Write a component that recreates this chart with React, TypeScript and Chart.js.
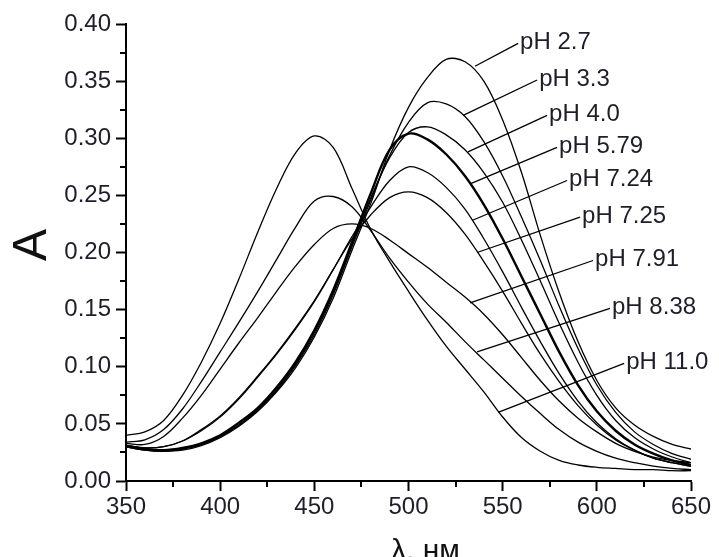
import React, { useEffect, useRef } from "react";
import { Chart, registerables } from "chart.js";

Chart.register(...registerables);

// Wavelength grid (nm)
const wavelengths = [
  350, 360, 370, 380, 390, 400, 410, 420, 430, 440, 450, 460, 470, 480, 490, 500,
  510, 520, 530, 540, 550, 560, 570, 580, 590, 600, 610, 620, 630, 640, 650,
];

// Absorbance values, one array per pH
const pH2_7 = [
  0.030, 0.027, 0.026, 0.027, 0.031, 0.038, 0.048, 0.061, 0.078, 0.099, 0.126, 0.160, 0.202, 0.243, 0.290, 0.327,
  0.353, 0.369, 0.367, 0.350, 0.316, 0.270, 0.215, 0.165, 0.122, 0.088, 0.064, 0.049, 0.039, 0.032, 0.028,
];
const pH3_3 = [
  0.030, 0.027, 0.026, 0.028, 0.032, 0.039, 0.049, 0.062, 0.079, 0.101, 0.128, 0.163, 0.205, 0.246, 0.285, 0.314,
  0.331, 0.330, 0.319, 0.297, 0.267, 0.231, 0.193, 0.153, 0.116, 0.084, 0.060, 0.043, 0.032, 0.024, 0.019,
];
const pH4_0 = [
  0.031, 0.028, 0.027, 0.028, 0.032, 0.039, 0.049, 0.063, 0.080, 0.102, 0.130, 0.165, 0.207, 0.248, 0.283, 0.305,
  0.310, 0.303, 0.290, 0.270, 0.244, 0.211, 0.175, 0.138, 0.104, 0.075, 0.053, 0.038, 0.028, 0.021, 0.016,
];
const pH5_79 = [
  0.031, 0.028, 0.027, 0.029, 0.033, 0.040, 0.051, 0.064, 0.082, 0.104, 0.132, 0.167, 0.209, 0.252, 0.290, 0.304,
  0.299, 0.286, 0.267, 0.242, 0.212, 0.179, 0.146, 0.113, 0.084, 0.061, 0.044, 0.032, 0.024, 0.018, 0.014,
];
const pH7_24 = [
  0.031, 0.029, 0.030, 0.035, 0.044, 0.056, 0.072, 0.091, 0.111, 0.133, 0.157, 0.185, 0.214, 0.240, 0.263, 0.275,
  0.270, 0.257, 0.238, 0.212, 0.183, 0.152, 0.122, 0.094, 0.070, 0.051, 0.037, 0.027, 0.020, 0.016, 0.013,
];
const pH7_25 = [
  0.031, 0.029, 0.030, 0.035, 0.045, 0.057, 0.073, 0.092, 0.112, 0.134, 0.158, 0.185, 0.212, 0.233, 0.248, 0.253,
  0.248, 0.235, 0.216, 0.192, 0.166, 0.138, 0.111, 0.087, 0.066, 0.049, 0.036, 0.027, 0.020, 0.016, 0.013,
];
const pH7_91 = [
  0.033, 0.032, 0.039, 0.055, 0.075, 0.098, 0.121, 0.143, 0.166, 0.188, 0.207, 0.221, 0.225, 0.221, 0.211, 0.199,
  0.187, 0.174, 0.161, 0.146, 0.128, 0.108, 0.088, 0.070, 0.055, 0.043, 0.033, 0.026, 0.021, 0.018, 0.016,
];
const pH8_38 = [
  0.034, 0.036, 0.045, 0.063, 0.087, 0.113, 0.139, 0.166, 0.194, 0.222, 0.245, 0.249, 0.240, 0.219, 0.195, 0.174,
  0.155, 0.139, 0.122, 0.106, 0.090, 0.074, 0.059, 0.045, 0.034, 0.026, 0.020, 0.016, 0.013, 0.011, 0.010,
];
const pH11_0 = [
  0.040, 0.043, 0.053, 0.075, 0.104, 0.138, 0.177, 0.218, 0.256, 0.287, 0.302, 0.292, 0.256, 0.220, 0.192, 0.166,
  0.141, 0.118, 0.098, 0.078, 0.056, 0.038, 0.026, 0.018, 0.014, 0.012, 0.011, 0.010, 0.010, 0.009, 0.009,
];

const seriesNames = ["pH 2.7", "pH 3.3", "pH 4.0", "pH 5.79", "pH 7.24", "pH 7.25", "pH 7.91", "pH 8.38", "pH 11.0"];
const seriesValues = [pH2_7, pH3_3, pH4_0, pH5_79, pH7_24, pH7_25, pH7_91, pH8_38, pH11_0];

// Leader lines: point on the curve (nm, A) -> label anchor (nm, A)
const leaderFromX = [535.3, 529.0, 531.6, 532.7, 533.7, 536.4, 532.7, 536.4, 547.6];
const leaderFromY = [0.363, 0.320, 0.288, 0.260, 0.228, 0.200, 0.156, 0.113, 0.060];
const leaderToX = [558.2, 568.3, 573.6, 578.9, 584.2, 591.1, 598.0, 607.0, 614.5];
const leaderToY = [0.383, 0.351, 0.320, 0.292, 0.263, 0.231, 0.193, 0.151, 0.103];

const xTicks = [350, 400, 450, 500, 550, 600, 650];
const yTicks = [0, 0.05, 0.1, 0.15, 0.2, 0.25, 0.3, 0.35, 0.4];

const FONT = "'Liberation Sans', Arial, Helvetica, sans-serif";

export default function App() {
  const ref = useRef<HTMLCanvasElement>(null);

  useEffect(() => {
    const canvas = ref.current;
    if (!canvas) return;

    const datasets = seriesNames.map((name, i) => ({
      label: name,
      data: wavelengths.map((w, j) => ({ x: w, y: seriesValues[i][j] })),
      borderColor: "#000",
      borderWidth: name === "pH 5.79" ? 2.4 : 1.3,
      pointRadius: 0,
      tension: 0.35,
      fill: false,
    }));

    const overlay = {
      id: "overlay",
      afterDatasetsDraw(chart: any) {
        const { ctx } = chart;
        const xs = chart.scales.x;
        const ys = chart.scales.y;
        ctx.save();
        // minor ticks
        ctx.strokeStyle = "#000";
        ctx.lineWidth = 2;
        const x0 = xTicks[0];
        const x1 = xTicks[xTicks.length - 1];
        const xStep = xTicks[1] - xTicks[0];
        for (let v = x0 + xStep / 2; v < x1; v += xStep) {
          const px = Math.round(xs.getPixelForValue(v));
          ctx.beginPath();
          ctx.moveTo(px, ys.bottom);
          ctx.lineTo(px, ys.bottom + 6);
          ctx.stroke();
        }
        const y0 = yTicks[0];
        const y1 = yTicks[yTicks.length - 1];
        const yStep = yTicks[1] - yTicks[0];
        for (let v = y0 + yStep / 2; v < y1; v += yStep) {
          const py = Math.round(ys.getPixelForValue(v));
          ctx.beginPath();
          ctx.moveTo(xs.left, py);
          ctx.lineTo(xs.left - 6, py);
          ctx.stroke();
        }
        // leader lines + labels
        ctx.lineWidth = 1.3;
        ctx.fillStyle = "#1e1e2a";
        ctx.font = `24px ${FONT}`;
        ctx.textAlign = "left";
        ctx.textBaseline = "middle";
        for (let i = 0; i < seriesNames.length; i++) {
          const ax = xs.getPixelForValue(leaderFromX[i]);
          const ay = ys.getPixelForValue(leaderFromY[i]);
          const bx = xs.getPixelForValue(leaderToX[i]);
          const by = ys.getPixelForValue(leaderToY[i]);
          ctx.beginPath();
          ctx.moveTo(ax, ay);
          ctx.lineTo(bx, by);
          ctx.stroke();
          ctx.fillText(seriesNames[i], bx + 2, by - 1);
        }
        // axis titles
        ctx.fillStyle = "#111";
        ctx.font = `48px ${FONT}`;
        ctx.save();
        ctx.translate(33, 245);
        ctx.rotate(-Math.PI / 2);
        ctx.textAlign = "center";
        ctx.textBaseline = "middle";
        ctx.fillText("A", 0, 0);
        ctx.restore();
        ctx.font = `30px ${FONT}`;
        ctx.textAlign = "left";
        ctx.textBaseline = "alphabetic";
        ctx.fillText("λ, нм", 391, 560);
        ctx.restore();
      },
    };

    const chart = new Chart(canvas, {
      type: "line",
      data: { datasets },
      options: {
        animation: false,
        responsive: false,
        devicePixelRatio: 1,
        layout: { padding: { top: 24, right: 28, left: 0, bottom: 0 } },
        plugins: { legend: { display: false }, tooltip: { enabled: false } },
        scales: {
          x: {
            type: "linear",
            min: 350,
            max: 650,
            border: { color: "#000", width: 2 },
            grid: { drawOnChartArea: false, drawTicks: true, tickLength: 10, tickWidth: 2, tickColor: "#000" },
            ticks: {
              stepSize: 50,
              color: "#1e1e2a",
              font: { family: FONT, size: 24 },
              padding: 2,
              maxRotation: 0,
              callback: (v: any) => String(v),
            },
            afterFit: (s: any) => {
              s.height = 76;
            },
          },
          y: {
            type: "linear",
            min: 0,
            max: 0.4,
            border: { color: "#000", width: 2 },
            grid: { drawOnChartArea: false, drawTicks: true, tickLength: 10, tickWidth: 2, tickColor: "#000" },
            ticks: {
              stepSize: 0.05,
              color: "#1e1e2a",
              font: { family: FONT, size: 24 },
              padding: 5,
              callback: (v: any) => Number(v).toFixed(2),
            },
            afterFit: (s: any) => {
              s.width = 126;
            },
          },
        },
      },
      plugins: [overlay],
    } as any);

    return () => chart.destroy();
  }, []);

  return (
    <div style={{ position: "absolute", left: 0, top: 0, width: 719, height: 557, background: "#fff" }}>
      <canvas ref={ref} width={719} height={557} style={{ display: "block" }} />
    </div>
  );
}
